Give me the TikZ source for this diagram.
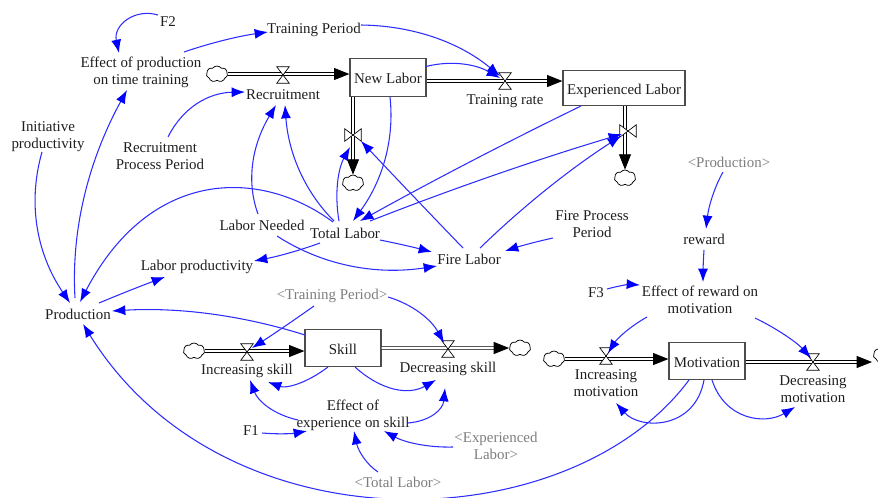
\documentclass[tikz,border=0pt]{standalone}
\usepackage{fontspec}
\setmainfont{Liberation Serif}
\usetikzlibrary{arrows.meta,shapes.symbols,calc}
\definecolor{linkblue}{RGB}{45,45,255}
\definecolor{ink}{RGB}{30,30,30}
\definecolor{shadow}{RGB}{125,125,125}
\tikzset{
  x=0.75pt,y=-0.75pt,
  lab/.style={align=center,font=\fontsize{11.2}{12.75}\selectfont,text=ink,inner sep=1pt},
  shad/.style={lab,text=shadow},
  stock/.style={lab,draw=black!70,line width=0.9pt,fill=white,minimum width=57pt,minimum height=28pt,inner sep=0pt,text height=9pt,text depth=0pt},
  link/.style={draw=linkblue,line width=0.8pt,-{Latex[length=10pt,width=7.5pt,color=blue]}},
  pipe/.style={draw=black,line width=0.65pt,double=white,double distance=1.3pt,-{Triangle[length=11.5pt,width=9pt,color=black]}},
  valvenode/.style={inner sep=0pt,minimum width=9pt,minimum height=12pt},
  vvalvenode/.style={inner sep=0pt,minimum width=12pt,minimum height=9pt},
  valveline/.style={draw=black,line width=0.5pt,fill=white},
  puff/.style={cloud,cloud puffs=7,cloud puff arc=110,aspect=1.3,draw=black,line width=0.55pt,fill=white,inner sep=0pt,minimum width=16pt,minimum height=12pt},
}
\newcommand{\hglassvalve}[2]{\node[valvenode] (#1) at (#2) {};
  \draw[valveline] (#1.north west) -- (#1.north east) -- (#1.south west) -- (#1.south east) -- cycle;}
\newcommand{\tievalve}[2]{\node[vvalvenode] (#1) at (#2) {};
  \draw[valveline] (#1.north west) -- (#1.south west) -- (#1.north east) -- (#1.south east) -- cycle;}
\newcommand{\olink}[7]{\draw[link] ([shift={(#2,#3)}]#1.center) .. controls ($([shift={(#2,#3)}]#1.center)!0.667!(#4)$) and ($([shift={(#6,#7)}]#5.center)!0.667!(#4)$) .. ([shift={(#6,#7)}]#5.center);}
\newcommand{\clink}[8]{\draw[link] ([shift={(#2,#3)}]#1.center) .. controls (#4) and (#5) .. ([shift={(#7,#8)}]#6.center);}
\begin{document}
\begin{tikzpicture}
\useasboundingbox (0,0) rectangle (878,497);
\clip (0,0) rectangle (878,497);
% stocks
\node[stock] (newlabor) at (388,77.5) {New Labor};
\node[stock,minimum width=91.5pt,minimum height=26pt] (explabor) at (624,88) {Experienced Labor};
\node[stock] (skill) at (343,348) {Skill};
\node[stock] (motivation) at (707,361) {Motivation};
% clouds
\node[puff] (c1) at (217,74) {};
\node[puff] (c2) at (353,183) {};
\node[puff] (c3) at (625,178) {};
\node[puff] (c4) at (194,351) {};
\node[puff] (c5) at (520,348) {};
\node[puff] (c6) at (554,359) {};
\node[puff] (c7) at (884,355) {};
% flows
\draw[pipe] (c1.east) -- (c1.east -| newlabor.west);
\draw[pipe] (newlabor.east |- 0,81) -- (explabor.west |- 0,81);
\draw[pipe] (newlabor.south -| c2) -- (c2.north);
\draw[pipe] (explabor.south -| c3) -- (c3.north);
\draw[pipe] (c4.east) -- (c4.east -| skill.west);
\draw[pipe] (skill.east |- c5) -- (c5.west);
\draw[pipe] (c6.east) -- (c6.east -| motivation.west);
\draw[pipe] (motivation.east |- 0,362) -- (872,362);
% valves
\hglassvalve{vrec}{283,75}
\hglassvalve{vtrain}{505,81}
\tievalve{vnlout}{353,135}
\tievalve{velout}{628,131}
\hglassvalve{vinc}{247,352}
\hglassvalve{vdec}{448,349}
\hglassvalve{vincm}{606,356}
\hglassvalve{vdecm}{813,362}
% labels
\node[lab] (f2) at (168,22) {F2};
\node[lab] (effprod) at (141,72) {Effect of production\\on time training};
\node[lab] (trainp) at (314,30) {Training Period};
\node[lab] (recruit) at (283,95) {Recruitment};
\node[lab] (trainrate) at (505,101) {Training rate};
\node[lab] (initprod) at (48,137) {Initiative\\productivity};
\node[lab] (recproc) at (160,156) {Recruitment\\Process Period};
\node[lab] (labneed) at (262,225) {Labor Needed};
\node[lab] (total) at (345,233) {Total Labor};
\node[lab] (fire) at (469,259) {Fire Labor};
\node[lab] (fireproc) at (592,224) {Fire Process\\Period};
\node[shad] (sprod) at (729,162) {<Production>};
\node[lab] (reward) at (704,239) {reward};
\node[lab] (effrew) at (700,300) {Effect of reward on\\motivation};
\node[lab] (f3) at (596,293) {F3};
\node[lab] (labprod) at (197,267) {Labor productivity};
\node[lab] (prod) at (78,314) {Production};
\node[shad] (strain) at (332,296) {<Training Period>};
\node[lab] (incskill) at (247,371) {Increasing skill};
\node[lab] (decskill) at (448,369) {Decreasing skill};
\node[lab] (effexp) at (353,415) {Effect of\\experience on skill};
\node[lab] (f1) at (251,431) {F1};
\node[shad] (sexp) at (496,446) {<Experienced\\Labor>};
\node[shad] (stotal) at (398,482) {<Total Labor>};
\node[lab] (incmot) at (606,383) {Increasing\\motivation};
\node[lab] (decmot) at (813,389) {Decreasing\\motivation};
% links
\clink{f2}{-10}{-7}{135,8}{113,25}{effprod}{-22}{-19}
\olink{effprod}{43}{-20}{225,38}{trainp}{-46}{2}
\olink{trainp}{47}{-5}{440,26}{vtrain}{-5}{-5}
\olink{newlabor}{38}{-11}{463,57}{vtrain}{-5}{-3}
\olink{recproc}{8}{-19}{190,93}{recruit}{-38}{-3}
\olink{prod}{-3}{-16}{69,196}{effprod}{-14}{18}
\olink{initprod}{-6}{15}{20,229}{prod}{-8}{-11}
\clink{total}{-12}{-11}{260,168}{150,168}{prod}{2}{-12}
\olink{labneed}{-4}{-11}{240,165}{recruit}{-7}{10}
\olink{total}{-11}{-12}{290,177}{recruit}{2}{10}
\olink{total}{-6}{-12}{332,180}{vnlout}{-3}{12}
\olink{newlabor}{2}{19.5}{397,161}{total}{8}{-12}
\olink{explabor}{-43}{18}{470,160}{total}{15}{-12}
\olink{total}{25}{-12}{495,172}{velout}{-6}{3}
\olink{fire}{-6}{-11}{410,193}{vnlout}{8}{6}
\olink{fire}{11}{-11}{545,185}{velout}{-7}{5}
\olink{fireproc}{-39}{14}{530,243}{fire}{36}{-8}
\olink{total}{35}{7}{405,245}{fire}{-37}{-7}
\olink{total}{-25}{10}{290,254}{labprod}{57}{-6}
\olink{labneed}{15}{11}{345,280}{fire}{-32}{7}
\olink{prod}{21}{-11}{130,290}{labprod}{-32}{10}
\olink{skill}{-38}{-13}{210,305}{prod}{34}{-3}
\olink{strain}{-18}{10}{283,328}{vinc}{5}{-4}
\olink{strain}{56}{1}{425,308}{vdec}{-4}{-6}
\olink{skill}{-15}{19}{295,392}{incskill}{21}{11}
\olink{skill}{12}{19}{395,403}{decskill}{-12}{11}
\olink{effexp}{-55}{5}{262,412}{incskill}{3}{9}
\olink{effexp}{55}{8}{442,420}{decskill}{-3}{19}
\olink{f1}{11}{2}{285,435}{effexp}{-46}{16}
\olink{sexp}{-43}{1}{415,448}{effexp}{31}{16}
\olink{stotal}{-20}{-10}{360,460}{effexp}{1}{16}
\clink{motivation}{-18}{19}{570,540}{225,553}{prod}{5}{10}
\clink{motivation}{-3}{19}{695,430}{640,430}{incmot}{10}{20}
\clink{motivation}{5}{19}{725,420}{765,425}{decmot}{-18}{18}
\olink{effrew}{-53}{17}{622,331}{vincm}{2}{-3}
\olink{effrew}{55}{18}{790,335}{vdecm}{-2}{-4}
\olink{f3}{11}{-4}{625,284}{effrew}{-60}{-15}
\olink{sprod}{-6}{10}{710,195}{reward}{2}{-10}
\olink{reward}{0}{11}{703,265}{effrew}{3}{-18}
\end{tikzpicture}
\end{document}
